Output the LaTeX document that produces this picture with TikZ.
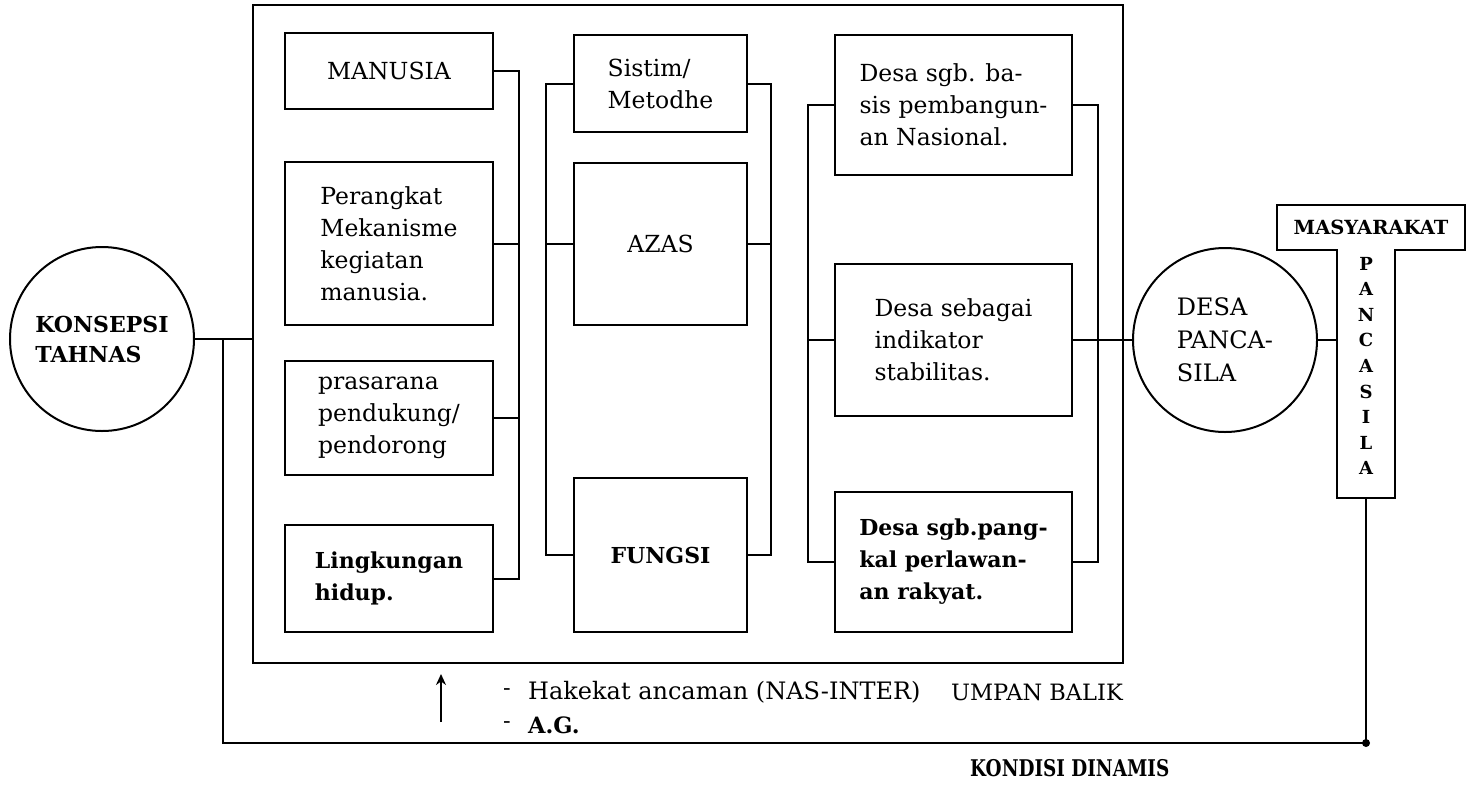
\documentclass[tikz,border=0pt]{standalone}
\usepackage{fontspec}
\setmainfont{DejaVu Serif}
\newfontfamily\condserif[FakeStretch=0.8]{DejaVu Serif}
\usetikzlibrary{arrows.meta}
\begin{document}
\begin{tikzpicture}[x=1pt,y=-1pt,
  every node/.style={font=\fontsize{23.5}{32}\selectfont, inner sep=0pt},
  box/.style={draw, line width=2pt, align=left},
  bbox/.style={box, font=\fontsize{22}{32}\selectfont\bfseries},
  conn/.style={line width=2pt},
  circ/.style={draw, circle, line width=2pt, minimum size=184pt, align=left},
  lbl/.style={anchor=west, font=\fontsize{22.5}{32}\selectfont},
]
\useasboundingbox[fill=white] (0,0) rectangle (1466,788);

% outer frame
\node[draw, line width=2pt, minimum width=870pt, minimum height=658pt] (frame) at (688,334) {};

% column 1
\node[box, minimum width=208pt, minimum height=76pt]  (man) at (389,71)    {MANUSIA};
\node[box, minimum width=208pt, minimum height=163pt] (per) at (389,243.5) {Perangkat\\Mekanisme\\kegiatan\\manusia.};
\node[box, minimum width=208pt, minimum height=114pt] (pra) at (389,418)   {prasarana\\pendukung/\\pendorong};
\node[bbox, minimum width=208pt, minimum height=107pt] (lin) at (389,578.5) {Lingkungan\\hidup.};

% column 2
\node[box, minimum width=173pt, minimum height=97pt]  (sis)  at (660.5,83.5) {Sistim/\\Metodhe};
\node[box, minimum width=173pt, minimum height=162pt] (azas) at (660.5,244)  {AZAS};
\node[bbox, minimum width=173pt, minimum height=154pt] (fun) at (660.5,555)  {FUNGSI};

% column 3
\node[box, minimum width=237pt, minimum height=140pt] (d1) at (953.5,105) {Desa sgb. ba-\\sis pembangun-\\an Nasional.};
\node[box, minimum width=237pt, minimum height=152pt] (d2) at (953.5,340) {Desa sebagai\\indikator\\stabilitas.};
\node[bbox, minimum width=237pt, minimum height=140pt] (d3) at (953.5,562) {Desa sgb.pang-\\kal perlawan-\\an rakyat.};

% circles
\node[circ, font=\fontsize{22}{30}\selectfont\bfseries, align=left] (kon) at (102,339) {KONSEPSI\\TAHNAS};
\node[circ, font=\fontsize{24}{33}\selectfont] (desa) at (1225,340) {DESA\\PANCA-\\SILA};

% T shape
\node[minimum width=188pt, minimum height=45pt, font=\fontsize{19.5}{20}\selectfont\bfseries] (mas) at (1371,227.5) {MASYARAKAT};
\node[minimum width=58pt, minimum height=248pt] (stem) at (1366,374) {};
\node[align=center, font=\fontsize{18}{25.6}\selectfont\bfseries] (pl) at (1366,366) {P\\A\\N\\C\\A\\S\\I\\L\\A};
\draw[line width=2pt] (mas.north west) -- (mas.north east) -- (mas.south east) -- (stem.north east |- mas.south east)
  -- (stem.south east) -- (stem.south west) -- (stem.north west |- mas.south west) -- (mas.south west) -- cycle;

% bus coordinates
\coordinate (b1) at (519,0);
\coordinate (b2) at (546,0);
\coordinate (b3) at (771,0);
\coordinate (b4) at (808,0);
\coordinate (b5) at (1098,0);
\coordinate (fb) at (223,0);
\coordinate (corner) at (1366,743);

% column 1 bracket
\draw[conn] (man.east) -- (man.east -| b1) -- (lin.east -| b1) -- (lin.east);
\draw[conn] (per.east) -- (per.east -| b1);
\draw[conn] (pra.east) -- (pra.east -| b1);
% column 2 brackets
\draw[conn] (sis.west) -- (sis.west -| b2) -- (fun.west -| b2) -- (fun.west);
\draw[conn] (azas.west) -- (azas.west -| b2);
\draw[conn] (sis.east) -- (sis.east -| b3) -- (fun.east -| b3) -- (fun.east);
\draw[conn] (azas.east) -- (azas.east -| b3);
% column 3 brackets
\draw[conn] (d1.west) -- (d1.west -| b4) -- (d3.west -| b4) -- (d3.west);
\draw[conn] (d2.west) -- (d2.west -| b4);
\draw[conn] (d1.east) -- (d1.east -| b5) -- (d3.east -| b5) -- (d3.east);
\draw[conn] (d2.east) -- (desa.west);

% links
\draw[conn] (kon.east) -- (kon.east -| frame.west);
\draw[conn] (desa.east) -- (desa.east -| stem.west);
\draw[conn] (kon.east -| fb) -- (corner -| fb) -- (corner) -- (stem.south);
\fill (corner) circle (4pt);

% feedback arrow and labels
\coordinate (arrb) at (441,722);
\coordinate (arrt) at (441,674);
\draw[line width=2.5pt, -{Stealth[length=11pt,width=10pt]}] (arrb) -- (arrt);
\node[lbl] (dash1) at (503,692) {-};
\node[lbl, font=\fontsize{24}{32}\selectfont] (hak) at (528,692) {Hakekat ancaman (NAS-INTER)};
\node[lbl] (dash2) at (503,725) {-};
\node[lbl, font=\fontsize{22.5}{32}\selectfont\bfseries] (ag) at (528,725) {A.G.};
\node[lbl, anchor=east] (umpan) at (1123,692) {UMPAN BALIK};
\node[lbl, font=\fontsize{23}{32}\condserif\bfseries] (kondisi) at (970,768) {KONDISI DINAMIS};
\end{tikzpicture}
\end{document}
